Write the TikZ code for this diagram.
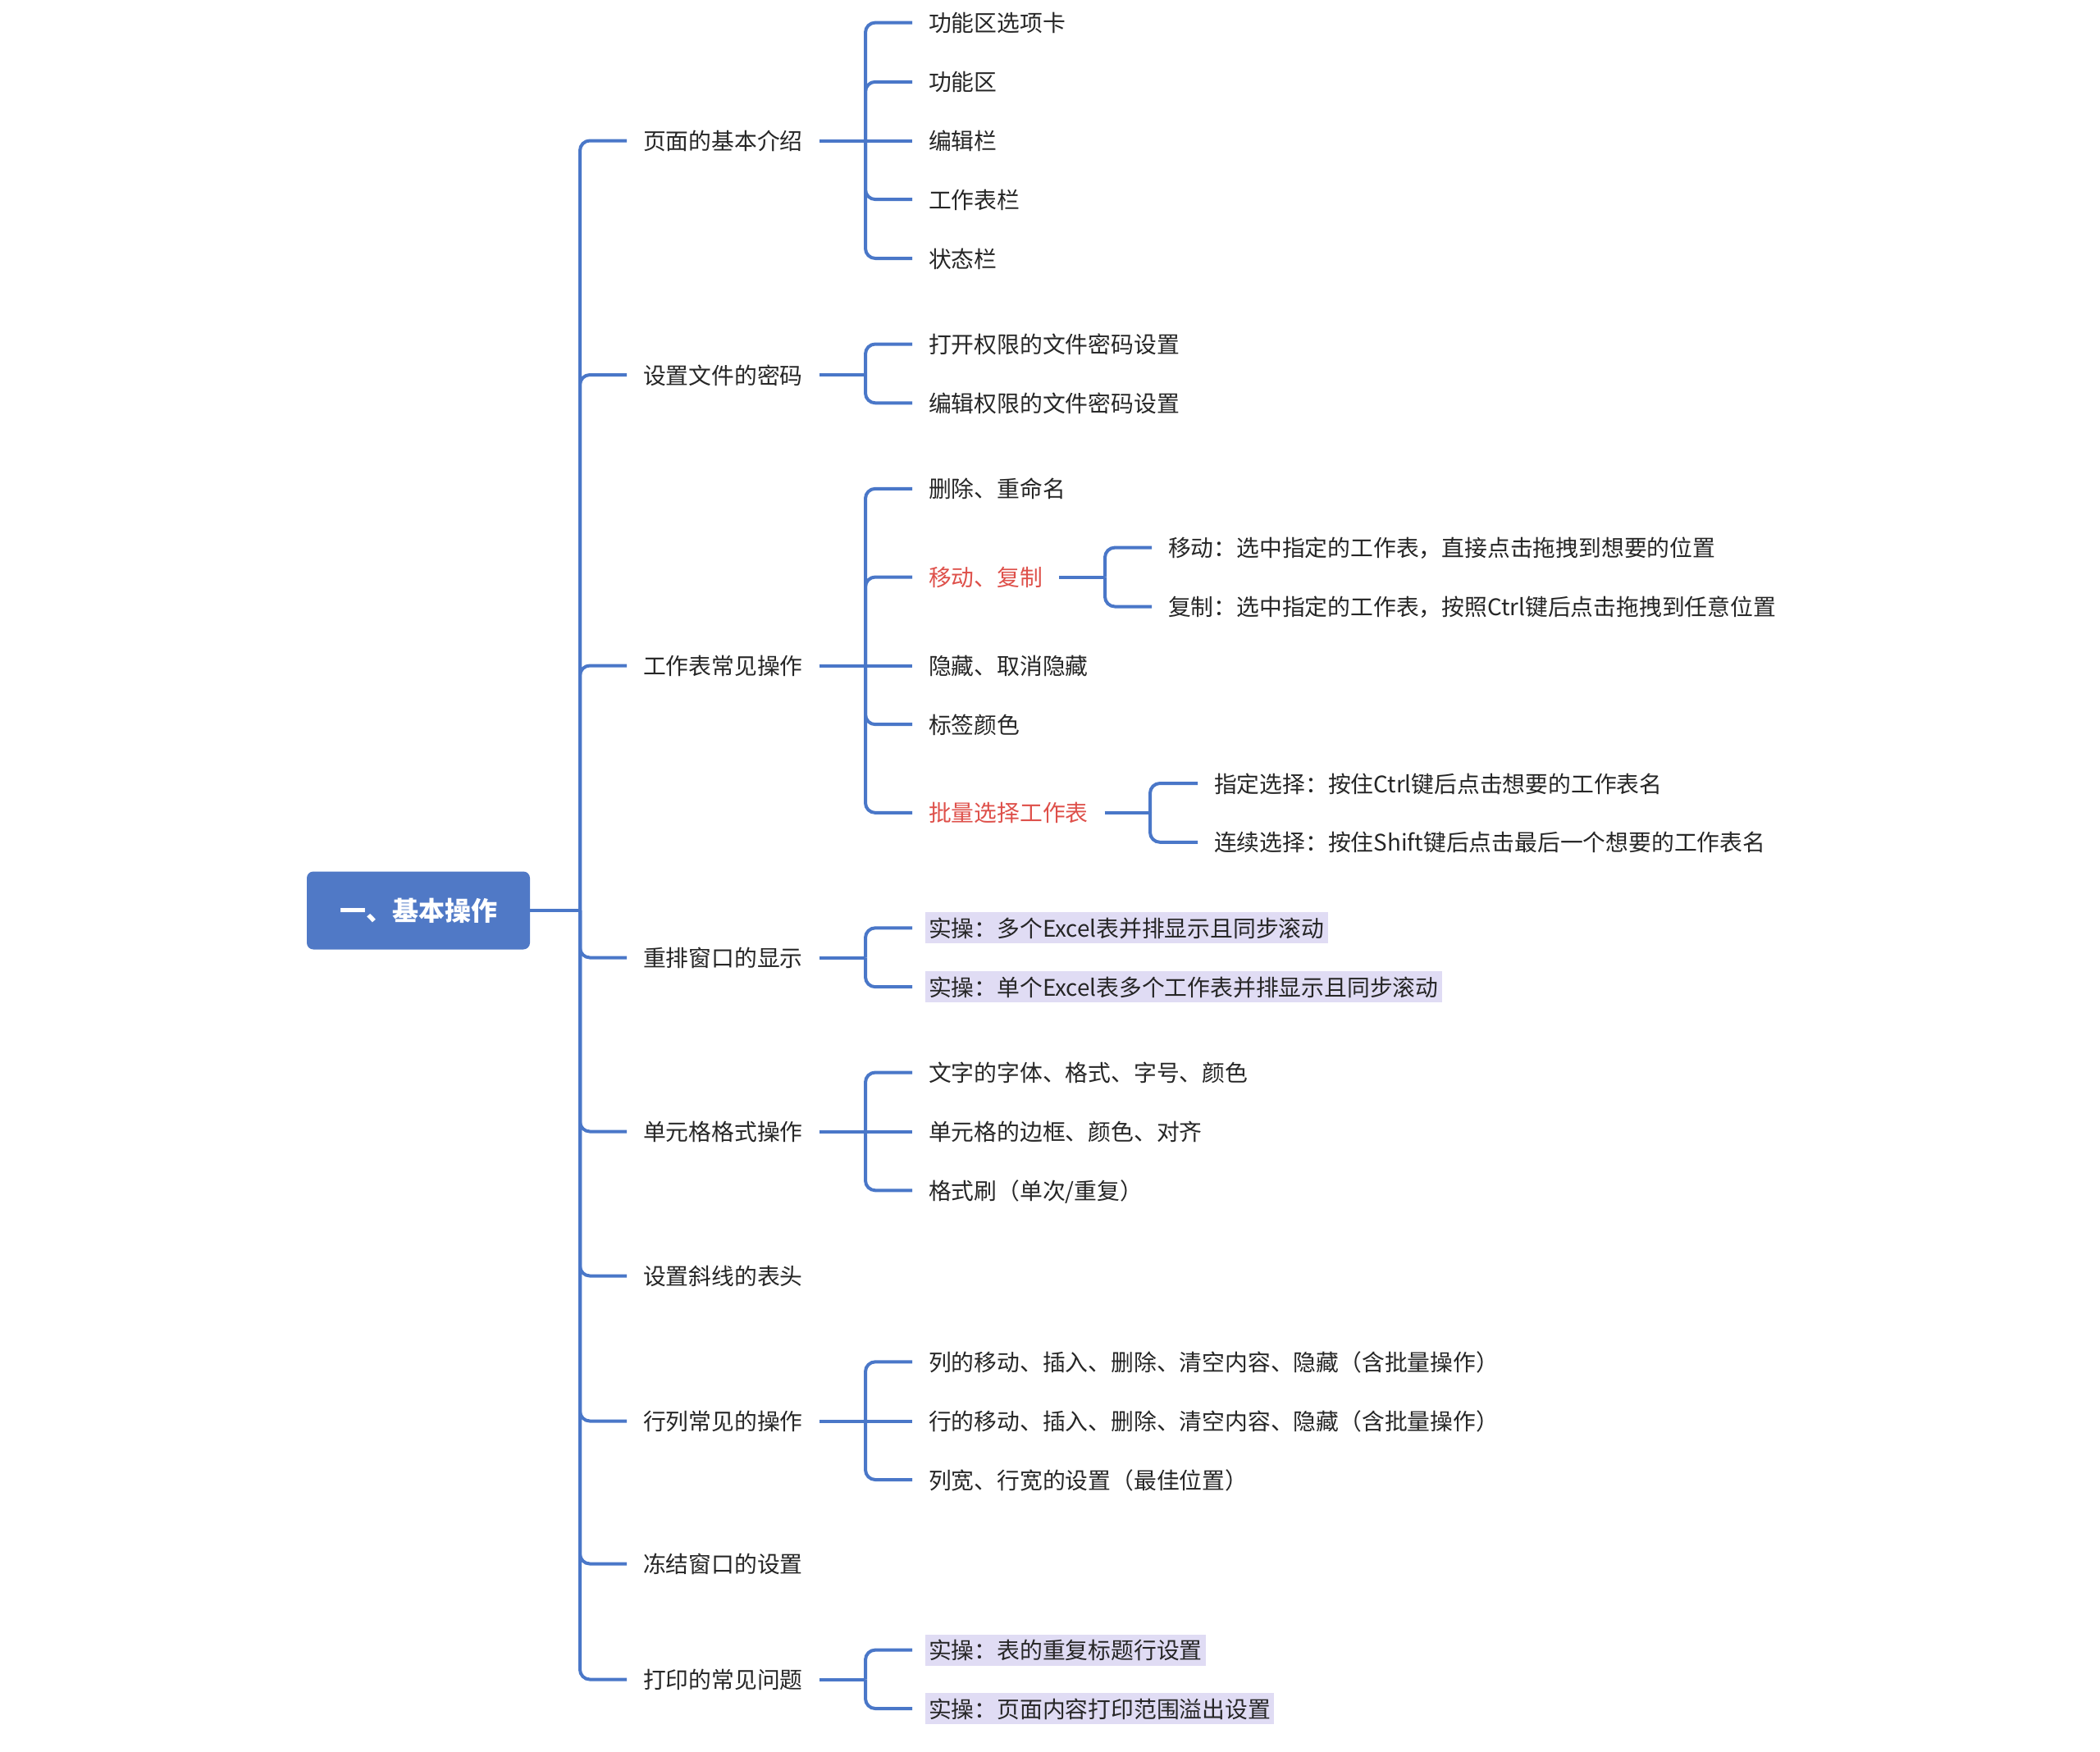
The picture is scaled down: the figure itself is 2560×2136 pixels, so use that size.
\documentclass[tikz,border=0pt]{standalone}
\usepackage{fontspec}
\setmainfont{Noto Sans CJK SC}

\definecolor{linkblue}{RGB}{74,119,200}
\definecolor{rootblue}{RGB}{80,121,198}
\definecolor{hotred}{RGB}{222,80,74}
\definecolor{taskbg}{RGB}{224,220,244}
\definecolor{textgray}{RGB}{38,38,38}

\begin{document}
\begin{tikzpicture}[
		x=0.5pt, y=-0.5pt,
		link/.style={draw=linkblue, line width=2pt, rounded corners=6pt},
		root box/.style={fill=rootblue, text=white, rounded corners=4pt, minimum width=136pt, minimum height=47.5pt, inner sep=0pt, font=\fontsize{16}{18}\selectfont\bfseries},
		topic/.style={anchor=west, inner xsep=2pt, inner ysep=2.5pt, outer xsep=8pt, outer ysep=0pt, text height=12.5pt, text depth=1.5pt, font=\fontsize{13.9}{16}\selectfont, text=textgray},
		hot/.style={topic, text=hotred},
		task/.style={topic, fill=taskbg}
		]
		
		\useasboundingbox (0,0) rectangle (2560,2136);
		
		% =========================================================
		% Root and trunk
		% =========================================================
		\node[root box] (root) at (510,1110) {一、基本操作};
		\coordinate (trunk) at (707,1110);
		\draw[link] (root.east) -- (trunk);
		
		\foreach \n/\y/\t in {pg/171.5/页面的基本介绍, pw/457/设置文件的密码, ws/811.5/工作表常见操作, wd/1167.5/重排窗口的显示, cf/1379.5/单元格格式操作, dg/1555.5/设置斜线的表头, rc/1732.5/行列常见的操作, fz/1906.5/冻结窗口的设置, pr/2047.5/打印的常见问题} {
			\node[topic] (\n) at (764,\y) {\t};
			\draw[link] (trunk) |- (\n.west);
		}
		
		% =========================================================
		% 页面的基本介绍
		% =========================================================
		\coordinate (pg-j) at (1055,171.5);
		\foreach \i/\y/\t in {1/27.6/功能区选项卡, 2/99.8/功能区, 3/171.5/编辑栏, 4/243.1/工作表栏, 5/315/状态栏} {
			\node[topic] (pg-\i) at (1112,\y) {\t};
		}
		\draw[link] (pg.east) -- (pg-3.west);
		\foreach \i in {1,2,4,5} {
			\draw[link] (pg-j) |- (pg-\i.west);
		}
		
		% =========================================================
		% 设置文件的密码
		% =========================================================
		\coordinate (pw-j) at (1055,457);
		\draw[link] (pw.east) -- (pw-j);
		\foreach \i/\y/\t in {1/419.5/打开权限的文件密码设置, 2/491.3/编辑权限的文件密码设置} {
			\node[topic] (pw-\i) at (1112,\y) {\t};
			\draw[link] (pw-j) |- (pw-\i.west);
		}
		
		% =========================================================
		% 工作表常见操作
		% =========================================================
		\coordinate (ws-j) at (1055,811.5);
		\node[topic] (ws-1) at (1112,595.8) {删除、重命名};
		\node[hot] (ws-2) at (1112,703.5) {移动、复制};
		\node[topic] (ws-3) at (1112,811.5) {隐藏、取消隐藏};
		\node[topic] (ws-4) at (1112,883.2) {标签颜色};
		\node[hot] (ws-5) at (1112,990.9) {批量选择工作表};
		\draw[link] (ws.east) -- (ws-3.west);
		\foreach \i in {1,2,4,5} {
			\draw[link] (ws-j) |- (ws-\i.west);
		}
		
		% 移动、复制
		\coordinate (mv-j) at (1347,703.5);
		\draw[link] (ws-2.east) -- (mv-j);
		\foreach \i/\y/\t in {1/667.6/移动：选中指定的工作表，直接点击拖拽到想要的位置, 2/739.5/复制：选中指定的工作表，按照Ctrl键后点击拖拽到任意位置} {
			\node[topic] (mv-\i) at (1404,\y) {\t};
			\draw[link] (mv-j) |- (mv-\i.west);
		}
		
		% 批量选择工作表
		\coordinate (bs-j) at (1402,990.9);
		\draw[link] (ws-5.east) -- (bs-j);
		\foreach \i/\y/\t in {1/955/指定选择：按住Ctrl键后点击想要的工作表名, 2/1026.8/连续选择：按住Shift键后点击最后一个想要的工作表名} {
			\node[topic] (bs-\i) at (1460,\y) {\t};
			\draw[link] (bs-j) |- (bs-\i.west);
		}
		
		% =========================================================
		% 重排窗口的显示
		% =========================================================
		\coordinate (wd-j) at (1055,1167.5);
		\draw[link] (wd.east) -- (wd-j);
		\foreach \i/\y/\t in {1/1131.3/实操：多个Excel表并排显示且同步滚动, 2/1203.2/实操：单个Excel表多个工作表并排显示且同步滚动} {
			\node[task] (wd-\i) at (1112,\y) {\t};
			\draw[link] (wd-j) |- (wd-\i.west);
		}
		
		% =========================================================
		% 单元格格式操作
		% =========================================================
		\coordinate (cf-j) at (1055,1379.5);
		\foreach \i/\y/\t in {1/1307.5/文字的字体、格式、字号、颜色, 2/1379.5/单元格的边框、颜色、对齐, 3/1451.3/{格式刷（单次/重复）}} {
			\node[topic] (cf-\i) at (1112,\y) {\t};
		}
		\draw[link] (cf.east) -- (cf-2.west);
		\foreach \i in {1,3} {
			\draw[link] (cf-j) |- (cf-\i.west);
		}
		
		% =========================================================
		% 行列常见的操作
		% =========================================================
		\coordinate (rc-j) at (1055,1732.5);
		\foreach \i/\y/\t in {1/1660.3/列的移动、插入、删除、清空内容、隐藏（含批量操作）, 2/1732.5/行的移动、插入、删除、清空内容、隐藏（含批量操作）, 3/1804/列宽、行宽的设置（最佳位置）} {
			\node[topic] (rc-\i) at (1112,\y) {\t};
		}
		\draw[link] (rc.east) -- (rc-2.west);
		\foreach \i in {1,3} {
			\draw[link] (rc-j) |- (rc-\i.west);
		}
		
		% =========================================================
		% 打印的常见问题
		% =========================================================
		\coordinate (pr-j) at (1055,2047.5);
		\draw[link] (pr.east) -- (pr-j);
		\foreach \i/\y/\t in {1/2011.6/实操：表的重复标题行设置, 2/2083/实操：页面内容打印范围溢出设置} {
			\node[task] (pr-\i) at (1112,\y) {\t};
			\draw[link] (pr-j) |- (pr-\i.west);
		}
		
	\end{tikzpicture}
\end{document}
